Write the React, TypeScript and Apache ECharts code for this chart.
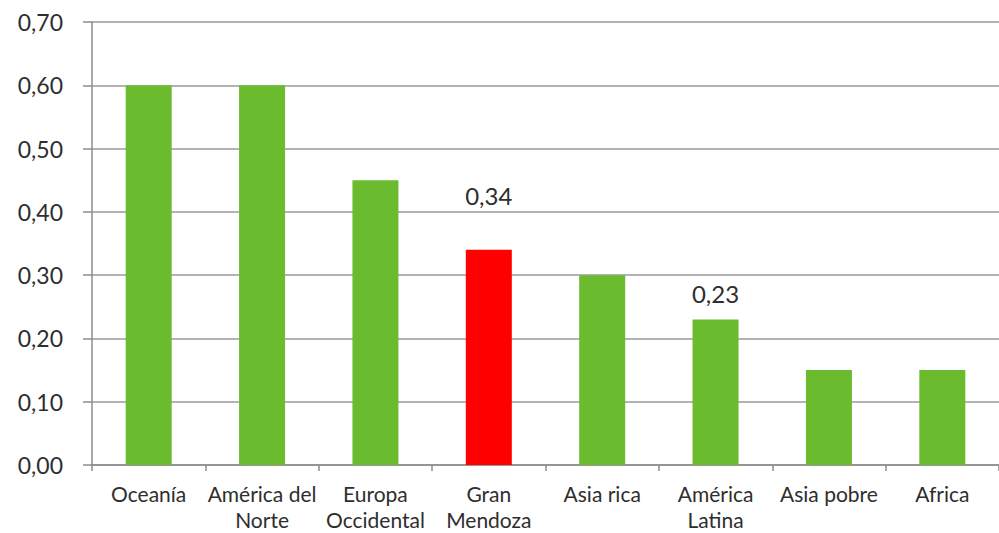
import React, { useEffect, useRef } from "react";
import * as echarts from "echarts";

const categories = [
  "Oceanía",
  "América del\nNorte",
  "Europa\nOccidental",
  "Gran\nMendoza",
  "Asia rica",
  "América\nLatina",
  "Asia pobre",
  "Africa",
];
const values = [0.6, 0.6, 0.45, 0.34, 0.3, 0.23, 0.15, 0.15];
const labelledIndex = [3, 5];
const highlightIndex = 3;
const labelDistances = [0, 0, 0, 42, 0, 14, 0, 0];

const GREEN = "#6BBB2F";
const RED = "#FF0000";
const TEXT = "#2e2e2e";
const FONT = "Lato, 'Open Sans', sans-serif";

const fmt = (v: number) => v.toFixed(2).replace(".", ",");

export default function App() {
  const ref = useRef<HTMLDivElement>(null);
  useEffect(() => {
    if (!ref.current) return;
    const chart = echarts.init(ref.current, null, { renderer: "svg" });
    chart.setOption({
      animation: false,
      backgroundColor: "#ffffff",
      grid: { left: 92, top: 22, bottom: 68, width: 916, containLabel: false },
      xAxis: {
        type: "category",
        data: categories,
        axisLine: { lineStyle: { color: "#8c8c8c", width: 1.5 } },
        axisTick: { show: true, length: 6, lineStyle: { color: "#8c8c8c", width: 1.5 } },
        axisLabel: {
          color: TEXT,
          fontSize: 21,
          fontFamily: FONT,
          lineHeight: 26,
          margin: 15,
          interval: 0,
        },
      },
      yAxis: {
        type: "value",
        min: 0,
        max: 0.7,
        interval: 0.1,
        axisLine: { show: true, lineStyle: { color: "#8c8c8c", width: 1.5 } },
        axisTick: { show: true, length: 9, lineStyle: { color: "#8c8c8c", width: 1.5 } },
        splitLine: { lineStyle: { color: "#9a9a9a", width: 1.5 } },
        axisLabel: {
          color: TEXT,
          fontSize: 23,
          fontFamily: FONT,
          margin: 29,
          formatter: (v: number) => fmt(v),
        },
      },
      series: [
        {
          type: "bar",
          barWidth: 46,
          data: values.map((v, i) => ({
            value: v,
            itemStyle: { color: i === highlightIndex ? RED : GREEN },
            label: {
              show: labelledIndex.includes(i),
              position: "top",
              distance: labelDistances[i],
              formatter: () => fmt(v),
              color: TEXT,
              fontSize: 24,
              fontFamily: FONT,
            },
          })),
        },
      ],
    });
    return () => chart.dispose();
  }, []);
  return (
    <div
      ref={ref}
      style={{ position: "fixed", left: 0, top: 0, width: 999, height: 533, overflow: "visible" }}
    />
  );
}
